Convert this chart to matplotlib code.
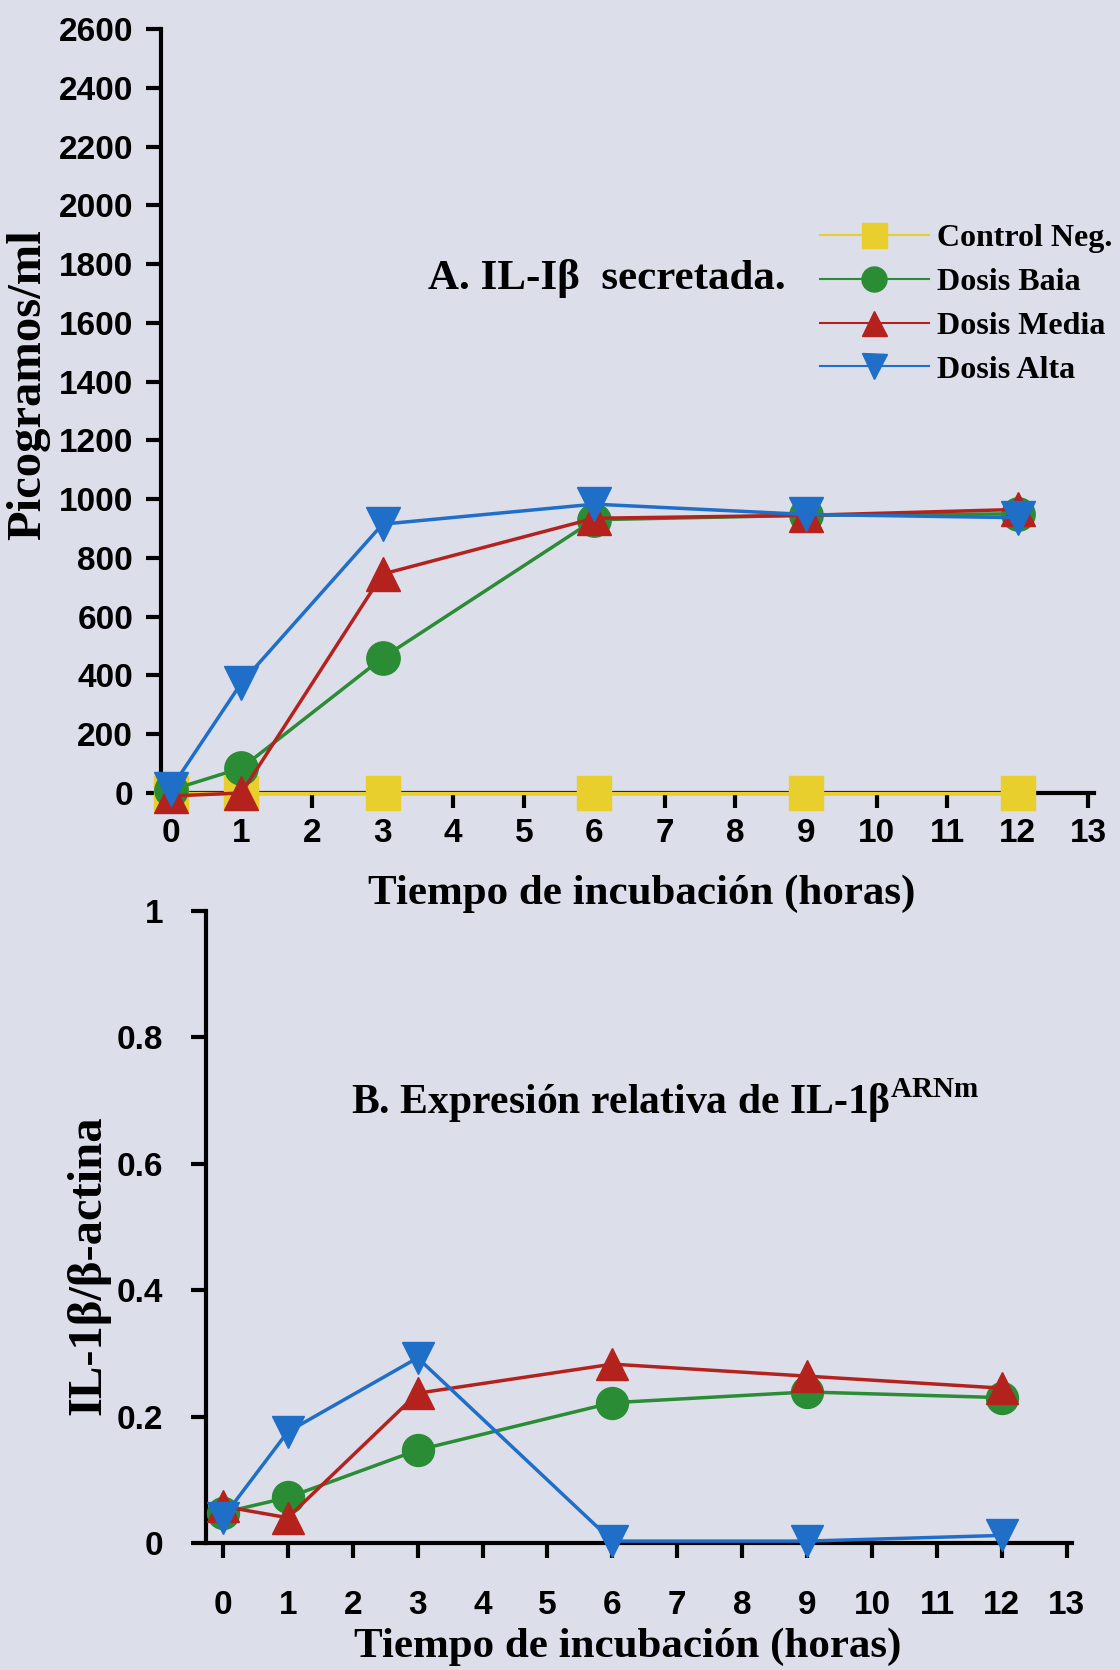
import matplotlib
matplotlib.use('Agg')
import matplotlib.pyplot as plt
from matplotlib.lines import Line2D

# data
hours = [0, 1, 3, 6, 9, 12]

# A. IL-1b secretada (pg/ml)
control_pg = [0, 0, 0, 0, 0, 0]
baja_pg = [10, 85, 460, 930, 945, 950]
media_pg = [-10, 0, 745, 935, 945, 965]
alta_pg = [15, 375, 915, 983, 948, 937]

# B. IL-1b/b-actina
baja_rel = [0.048, 0.072, 0.147, 0.222, 0.239, 0.230]
media_rel = [0.058, 0.040, 0.237, 0.283, 0.264, 0.245]
alta_rel = [0.040, 0.176, 0.293, 0.003, 0.003, 0.012]

series_names = ['Control Neg.', 'Dosis Baia', 'Dosis Media', 'Dosis Alta']
colors = ['#e8cf2e', '#2a8c34', '#b4221e', '#1f6ec8']
markers = ['s', 'o', '^', 'v']

x_ticks = list(range(0, 14))
y_ticks_a = list(range(0, 2601, 200))
y_ticks_b = [0, 0.2, 0.4, 0.6, 0.8, 1]
y_ticklabels_b = ['0', '0.2', '0.4', '0.6', '0.8', '1']

bg = '#dcdeea'
W, H = 1120, 1670
serif = 'Liberation Serif'
sans = 'Liberation Sans'

plt.rcParams['mathtext.fontset'] = 'custom'
plt.rcParams['mathtext.bf'] = 'Liberation Serif:bold'
plt.rcParams['mathtext.rm'] = 'Liberation Serif:bold'


def fx(px):
    return px / W


def fy(py):
    return 1 - py / H


def bold_ticks(ax):
    for lab in ax.get_xticklabels() + ax.get_yticklabels():
        lab.set_fontfamily(sans)
        lab.set_fontweight('bold')


fig = plt.figure(figsize=(W / 100, H / 100), dpi=100, facecolor=bg)

# axes boxes in pixel coords of the reference
ax_a = fig.add_axes([fx(161), fy(793), fx(1094 - 161), (793 - 29) / H])
ax_b = fig.add_axes([fx(206), fy(1543), fx(1072 - 206), (1543 - 911) / H])

for ax in (ax_a, ax_b):
    ax.set_facecolor('none')
    ax.spines['top'].set_visible(False)
    ax.spines['right'].set_visible(False)
    ax.spines['left'].set_linewidth(3)
    ax.spines['bottom'].set_linewidth(3)
    ax.set_xticks(x_ticks)
    ax.tick_params(axis='both', width=3, length=11, labelsize=24)

# panel A
ax_a.set_xlim(-0.14, 13.08)
ax_a.set_ylim(0, 2600)
ax_a.set_yticks(y_ticks_a)
ax_a.tick_params(axis='x', pad=7)
ax_a.tick_params(axis='y', pad=9)
bold_ticks(ax_a)

vals_a = [control_pg, baja_pg, media_pg, alta_pg]
for i in range(len(vals_a)):
    ax_a.plot(hours, vals_a[i], color=colors[i], marker=markers[i], markersize=24,
              linewidth=2.5, clip_on=False, zorder=3 + i)

# panel B
ax_b.set_xlim(-0.26, 13.08)
ax_b.set_ylim(0, 1)
ax_b.set_yticks(y_ticks_b)
ax_b.set_yticklabels(y_ticklabels_b)
ax_b.tick_params(axis='x', pad=23)
ax_b.tick_params(axis='y', pad=20)
bold_ticks(ax_b)

vals_b = [baja_rel, media_rel, alta_rel]
for i in range(len(vals_b)):
    ax_b.plot(hours, vals_b[i], color=colors[i + 1], marker=markers[i + 1], markersize=23,
              linewidth=2.5, clip_on=False, zorder=4 + i)

# titles and labels
fig.text(fx(607), fy(279), 'A. IL-Iβ  secretada.', family=serif, weight='bold',
         fontsize=31, ha='center', va='center')
fig.text(fx(351), fy(1101), r'B. Expresión relativa de IL-1β$^{\mathbf{ARNm}}$', family=serif,
         weight='bold', fontsize=30, ha='left', va='center')

fig.text(fx(642), fy(894), 'Tiempo de incubación (horas)', family=serif, weight='bold',
         fontsize=31, ha='center', va='center')
fig.text(fx(628), fy(1647), 'Tiempo de incubación (horas)', family=serif, weight='bold',
         fontsize=31, ha='center', va='center')
fig.text(fx(28), fy(385), 'Picogramos/ml', family=serif, weight='bold',
         fontsize=35, ha='center', va='center', rotation=90)
fig.text(fx(88), fy(1265), 'IL-1β/β-actina', family=serif, weight='bold',
         fontsize=35, ha='center', va='center', rotation=90)

# legend
handles = []
for i in range(len(series_names)):
    handles.append(Line2D([], [], color=colors[i], marker=markers[i], markersize=18, linewidth=1.5))
leg = fig.legend(handles, series_names, loc='upper left', bbox_to_anchor=(fx(820), fy(224)),
                 frameon=False, borderpad=0, borderaxespad=0, handlelength=3.4,
                 handletextpad=0.25, labelspacing=0.45,
                 prop={'family': serif, 'weight': 'bold', 'size': 23})

fig.savefig('out.png', dpi=100, facecolor=bg)
